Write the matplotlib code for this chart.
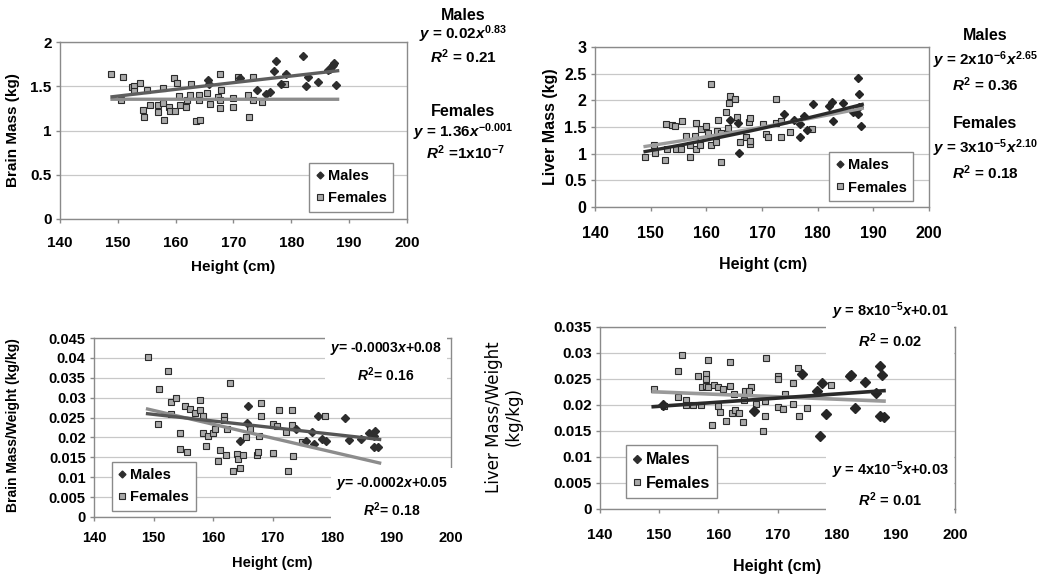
#brain / liver mass vs height, 4 panels

import numpy as np
import matplotlib
matplotlib.use('Agg')
import matplotlib.pyplot as plt
from matplotlib.ticker import FuncFormatter, MultipleLocator
from matplotlib.lines import Line2D

plt.rcParams['font.family'] = ['Liberation Sans', 'DejaVu Sans']
plt.rcParams['font.weight'] = 'bold'
plt.rcParams['mathtext.fontset'] = 'custom'
plt.rcParams['mathtext.rm'] = 'Liberation Sans:bold'
plt.rcParams['mathtext.it'] = 'Liberation Sans:italic:bold'
plt.rcParams['mathtext.bf'] = 'Liberation Sans:bold'

# ---- data ----
# brain mass (kg)
brain_m_h = [165.6, 165.8, 171.1, 174.0, 175.7, 176.3, 177.0, 177.4, 178.2, 179.0,
             182.0, 182.5, 182.8, 184.6, 186.3, 186.7, 187.1, 187.4, 187.8, 187.2]
brain_m = [1.57, 1.53, 1.59, 1.46, 1.41, 1.44, 1.67, 1.79, 1.53, 1.64,
           1.84, 1.50, 1.60, 1.55, 1.68, 1.70, 1.73, 1.76, 1.51, 1.74]
brain_f_h = [148.9, 150.9, 150.5, 152.4, 152.8, 152.8, 153.8, 154.4, 154.6, 155.1,
             155.5, 156.9, 157.0, 157.8, 157.8, 158.0, 158.8, 159.0, 159.7, 159.9,
             160.2, 160.6, 160.7, 161.8, 161.9, 162.6, 162.5, 163.5, 164.2, 164.0,
             164.1, 165.4, 166.0, 167.3, 167.6, 167.7, 167.9, 167.6, 169.9, 169.9,
             170.7, 172.5, 172.7, 173.4, 173.3, 175.0, 178.9]
brain_f = [1.64, 1.60, 1.34, 1.49, 1.50, 1.45, 1.54, 1.23, 1.15, 1.46,
           1.29, 1.21, 1.29, 1.48, 1.31, 1.12, 1.27, 1.22, 1.59, 1.22,
           1.54, 1.39, 1.29, 1.26, 1.35, 1.52, 1.40, 1.11, 1.12, 1.40,
           1.35, 1.42, 1.30, 1.38, 1.25, 1.64, 1.46, 1.34, 1.37, 1.26,
           1.60, 1.40, 1.15, 1.61, 1.34, 1.32, 1.52]

# liver mass (kg)
liver_m_h = [164.3, 165.7, 165.9, 174.0, 175.7, 176.8, 176.8, 177.5, 178.1, 179.1,
             182.0, 182.5, 182.8, 184.6, 186.4, 187.2, 187.5, 187.2, 187.8, 187.4]
liver_m = [1.63, 1.58, 1.02, 1.75, 1.63, 1.56, 1.31, 1.70, 1.44, 1.94,
           1.89, 1.97, 1.62, 1.95, 1.79, 2.41, 2.12, 1.74, 1.52, 1.88]
liver_f_h = [149.0, 150.6, 150.8, 152.6, 152.7, 152.9, 153.8, 154.4, 154.5, 155.4,
             155.7, 156.3, 157.0, 157.0, 158.1, 157.9, 158.1, 158.8, 159.1, 159.9,
             160.3, 160.8, 160.9, 161.8, 162.1, 161.9, 162.7, 162.7, 163.5, 163.9,
             164.1, 164.3, 165.1, 165.5, 166.1, 167.2, 167.7, 167.9, 167.8, 167.9,
             170.1, 170.8, 171.1, 172.6, 172.6, 173.5, 173.5, 175.1, 178.9]
liver_f = [0.93, 1.16, 1.01, 0.88, 1.56, 1.08, 1.54, 1.51, 1.08, 1.08,
           1.62, 1.33, 0.93, 1.16, 1.58, 1.33, 1.08, 1.16, 1.46, 1.52,
           1.39, 2.30, 1.16, 1.21, 1.63, 1.43, 0.85, 1.38, 1.79, 1.49,
           1.95, 2.08, 2.03, 1.69, 1.21, 1.31, 1.60, 1.66, 1.18, 1.23,
           1.56, 1.37, 1.31, 2.02, 1.58, 1.31, 1.62, 1.41, 1.46]

# brain mass / body weight (kg/kg)
bw_m_h = [164.5, 165.7, 165.8, 174.0, 175.7, 176.6, 176.9, 177.6, 178.3, 179.0,
          182.2, 182.8, 184.8, 186.3, 187.0, 187.3, 187.0, 187.7]
bw_m = [0.0190, 0.0236, 0.0280, 0.0220, 0.0191, 0.0213, 0.0183, 0.0255, 0.0196, 0.0191,
        0.0250, 0.0193, 0.0196, 0.0211, 0.0204, 0.0215, 0.0176, 0.0176]
bw_f_h = [149.0, 150.7, 150.9, 152.5, 152.9, 152.9, 153.8, 154.5, 154.4, 155.3,
          155.7, 156.2, 157.0, 157.8, 157.8, 158.3, 158.3, 158.8, 159.2, 160.0,
          160.4, 160.8, 161.2, 161.8, 161.9, 162.2, 162.4, 162.8, 163.4, 164.0,
          164.2, 164.5, 165.1, 165.6, 166.2, 167.4, 167.5, 167.7, 168.0, 168.0,
          170.1, 170.1, 170.7, 171.1, 172.3, 172.6, 173.3, 173.3, 173.5, 174.9, 178.9]
bw_f = [0.0402, 0.0234, 0.0322, 0.0366, 0.0288, 0.0260, 0.0299, 0.0211, 0.0172, 0.0278,
        0.0163, 0.0272, 0.0261, 0.0293, 0.0270, 0.0253, 0.0211, 0.0178, 0.0203, 0.0211,
        0.0221, 0.0140, 0.0169, 0.0253, 0.0243, 0.0157, 0.0221, 0.0337, 0.0115, 0.0159,
        0.0146, 0.0124, 0.0157, 0.0200, 0.0221, 0.0157, 0.0163, 0.0203, 0.0287, 0.0253,
        0.0161, 0.0235, 0.0230, 0.0268, 0.0213, 0.0115, 0.0270, 0.0231, 0.0153, 0.0188, 0.0253]

# liver mass / body weight (kg/kg)
lw_m_h = [150.6, 166.0, 174.1, 176.7, 177.1, 177.6, 178.2, 182.3, 182.5, 183.1,
          184.8, 186.6, 187.3, 187.6, 187.4, 188.0]
lw_m = [0.0200, 0.0189, 0.0260, 0.0226, 0.0140, 0.0243, 0.0183, 0.0256, 0.0258, 0.0194,
        0.0245, 0.0224, 0.0275, 0.0258, 0.0179, 0.0176]
lw_f_h = [149.1, 150.8, 153.1, 153.1, 153.9, 154.5, 154.5, 155.8, 156.5, 157.2,
          157.0, 157.9, 157.9, 157.9, 158.3, 158.3, 158.9, 159.3, 160.0, 160.0,
          160.3, 160.8, 161.3, 162.0, 162.0, 162.3, 162.6, 162.8, 163.5, 164.1,
          164.3, 164.5, 165.5, 165.2, 166.4, 167.5, 167.9, 167.9, 168.1, 170.0,
          170.0, 170.0, 170.9, 171.3, 172.6, 172.7, 173.4, 173.6, 175.0, 179.0]
lw_f = [0.0230, 0.0198, 0.0266, 0.0215, 0.0297, 0.0210, 0.0200, 0.0200, 0.0255, 0.0235,
        0.0200, 0.0260, 0.0250, 0.0237, 0.0287, 0.0235, 0.0161, 0.0239, 0.0234, 0.0198,
        0.0187, 0.0230, 0.0170, 0.0282, 0.0237, 0.0185, 0.0221, 0.0190, 0.0185, 0.0168,
        0.0210, 0.0226, 0.0235, 0.0226, 0.0202, 0.0150, 0.0178, 0.0208, 0.0290, 0.0256,
        0.0250, 0.0197, 0.0193, 0.0221, 0.0242, 0.0201, 0.0271, 0.0178, 0.0194, 0.0239]

# trendlines: power fits (a, b) -> a*x**b, linear fits (slope, intercept)
trend_range = [149, 188]
brain_fit_m = (0.0217, 0.83)
brain_fit_f = (1.36, -0.001)
liver_fit_m = (1.81e-6, 2.65)
liver_fit_f = (3.1e-5, 2.10)
bw_fit_m = (-0.000166, 0.0507)
bw_fit_f = (-0.000348, 0.0790)
lw_fit_m = (7.9e-5, 0.0079)
lw_fit_f = (-4.6e-5, 0.0294)

W, H = 1050, 583
fig = plt.figure(figsize=(W / 100, H / 100), dpi=100)


def px(x, y):
    # figure pixel -> figure fraction
    return x / W, 1 - y / H


def make_ax(rect, ymax, ystep, fsize):
    l, t, r, b = rect
    ax = fig.add_axes([l / W, 1 - b / H, (r - l) / W, (b - t) / H])
    ax.set_xlim(140, 200)
    ax.set_ylim(0, ymax)
    ax.xaxis.set_major_locator(MultipleLocator(10))
    ax.yaxis.set_major_locator(MultipleLocator(ystep))
    ax.yaxis.set_major_formatter(FuncFormatter(lambda v, p: '%g' % round(v, 4)))
    ax.grid(axis='y', color='#c8c8c8', lw=0.9)
    ax.set_axisbelow(True)
    for s in ax.spines.values():
        s.set_color('#8a8a8a')
        s.set_linewidth(1.0)
    ax.tick_params(axis='both', direction='out', length=3, color='#8a8a8a', width=1,
                   labelsize=fsize)
    ax.tick_params(axis='x', pad=9)
    ax.tick_params(axis='y', pad=3)
    return ax


def scatter(ax, mh, mv, fh, fv, ms, mcol='#2e2e2e'):
    ax.plot(fh, fv, ls='none', marker='s', ms=ms, mfc='#a9a9a9', mec='#2a2a2a', mew=0.8, zorder=3)
    ax.plot(mh, mv, ls='none', marker='D', ms=ms, mfc=mcol, mec=mcol, zorder=3)


def legend(ax, loc, anchor, fsize, ms):
    h = [Line2D([], [], ls='none', marker='D', ms=ms - 1, mfc='#2e2e2e', mec='#2e2e2e'),
         Line2D([], [], ls='none', marker='s', ms=ms, mfc='#a9a9a9', mec='#2a2a2a', mew=0.8)]
    lg = ax.legend(h, ['Males', 'Females'], loc=loc, bbox_to_anchor=anchor,
                   fancybox=False, framealpha=1, edgecolor='#8a8a8a',
                   handlelength=0.5, handletextpad=0.3, borderpad=0.45, labelspacing=0.55,
                   borderaxespad=0, prop={'size': fsize, 'weight': 'bold'})
    lg.get_frame().set_linewidth(1.0)
    lg.set_zorder(6)


xt = np.linspace(trend_range[0], trend_range[1], 60)
box = dict(facecolor='white', edgecolor='none', pad=4)

# ---- panel 1: brain mass ----
ax1 = make_ax((60, 42, 407, 219), 2, 0.5, 11)
scatter(ax1, brain_m_h, brain_m, brain_f_h, brain_f, 4.3)
ax1.plot(xt, brain_fit_f[0] * xt ** brain_fit_f[1], color='#8c8c8c', lw=2.4, zorder=4)
ax1.plot(xt, brain_fit_m[0] * xt ** brain_fit_m[1], color='#5e5e5e', lw=2.4, zorder=4)
legend(ax1, 'lower right', (0.96, 0.04), 10.5, 4.5)
fig.text(*px(13, 130), 'Brain Mass (kg)', rotation=90, ha='center', va='center', fontsize=11)
fig.text(*px(233, 267), 'Height (cm)', ha='center', va='center', fontsize=11)
fig.text(*px(463, 15), 'Males', ha='center', va='center', fontsize=11.5)
fig.text(*px(463, 34), r'$y$ = 0.02$x^{0.83}$', ha='center', va='center', fontsize=11)
fig.text(*px(463, 57), r'$R^2$ = 0.21', ha='center', va='center', fontsize=11)
fig.text(*px(463, 112), 'Females', ha='center', va='center', fontsize=11.5)
fig.text(*px(463, 132), r'$y$ = 1.36$x^{-0.001}$', ha='center', va='center', fontsize=11)
fig.text(*px(466, 153), r'$R^2$ =1x10$^{-7}$', ha='center', va='center', fontsize=11)

# ---- panel 2: liver mass ----
ax2 = make_ax((595, 47, 929, 207), 3, 0.5, 11.5)
ax2.tick_params(axis='x', pad=11)
scatter(ax2, liver_m_h, liver_m, liver_f_h, liver_f, 4.3, '#262626')
ax2.plot(xt, liver_fit_f[0] * xt ** liver_fit_f[1], color='#9c9c9c', lw=2.4, zorder=4)
ax2.plot(xt, liver_fit_m[0] * xt ** liver_fit_m[1], color='#2a2a2a', lw=2.4, zorder=4)
legend(ax2, 'lower right', (0.952, 0.037), 10.5, 4.5)
fig.text(*px(550, 127), 'Liver Mass (kg)', rotation=90, ha='center', va='center', fontsize=11.5)
fig.text(*px(763, 264), 'Height (cm)', ha='center', va='center', fontsize=11.5)
fig.text(*px(985, 35), 'Males', ha='center', va='center', fontsize=11.5)
fig.text(*px(985, 60), r'$y$ = 2x10$^{-6}$$x^{2.65}$', ha='center', va='center', fontsize=11)
fig.text(*px(985, 85), r'$R^2$ = 0.36', ha='center', va='center', fontsize=11)
fig.text(*px(985, 124), 'Females', ha='center', va='center', fontsize=11.5)
fig.text(*px(985, 148), r'$y$ = 3x10$^{-5}$$x^{2.10}$', ha='center', va='center', fontsize=11)
fig.text(*px(985, 173), r'$R^2$ = 0.18', ha='center', va='center', fontsize=11)

# ---- panel 3: brain mass / weight ----
ax3 = make_ax((94, 338, 451, 517), 0.045, 0.005, 10.5)
ax3.tick_params(axis='x', pad=7)
scatter(ax3, bw_m_h, bw_m, bw_f_h, bw_f, 4.3)
ax3.plot(xt, bw_fit_f[0] * xt + bw_fit_f[1], color='#8c8c8c', lw=2.4, zorder=4)
ax3.plot(xt, bw_fit_m[0] * xt + bw_fit_m[1], color='#555555', lw=2.4, zorder=4)
legend(ax3, 'lower left', (0.05, 0.034), 10.5, 4.5)
fig.text(*px(13, 425), 'Brain Mass/Weight (kg/kg)', rotation=90, ha='center', va='center', fontsize=10)
fig.text(*px(272, 563), 'Height (cm)', ha='center', va='center', fontsize=10.5)
fig.text(*px(386, 362), r'$y$= -0.0003$x$+0.08' + '\n' + r'$R^2$= 0.16', ha='center', va='center',
         fontsize=10, linespacing=1.5, bbox=box, zorder=10)
fig.text(*px(392, 497), r'$y$= -0.0002$x$+0.05' + '\n' + r'$R^2$= 0.18', ha='center', va='center',
         fontsize=10, linespacing=1.5, bbox=box, zorder=10)

# ---- panel 4: liver mass / weight ----
ax4 = make_ax((600, 327, 955, 509), 0.035, 0.005, 11)
ax4.tick_params(axis='x', pad=11)
scatter(ax4, lw_m_h, lw_m, lw_f_h, lw_f, 5, '#262626')
ax4.plot(xt, lw_fit_f[0] * xt + lw_fit_f[1], color='#9a9a9a', lw=2.6, zorder=4)
ax4.plot(xt, lw_fit_m[0] * xt + lw_fit_m[1], color='#2a2a2a', lw=2.6, zorder=4)
legend(ax4, 'lower left', (0.073, 0.06), 11.5, 5)
fig.text(*px(504, 417), 'Liver Mass/Weight\n(kg/kg)', rotation=90, ha='center', va='center',
         fontsize=12, fontweight='normal', family='DejaVu Sans', linespacing=1.1)
fig.text(*px(777, 567), 'Height (cm)', ha='center', va='center', fontsize=11.5)
fig.text(*px(890, 325), r'$y$ = 8x10$^{-5}$$x$+0.01' + '\n' + r'$R^2$ = 0.02', ha='center', va='center',
         fontsize=10.5, linespacing=1.6, bbox=box, zorder=10)
fig.text(*px(890, 484), r'$y$ = 4x10$^{-5}$$x$+0.03' + '\n' + r'$R^2$ = 0.01', ha='center', va='center',
         fontsize=10.5, linespacing=1.6, bbox=box, zorder=10)

plt.savefig('out.png', dpi=100)
plt.close()
